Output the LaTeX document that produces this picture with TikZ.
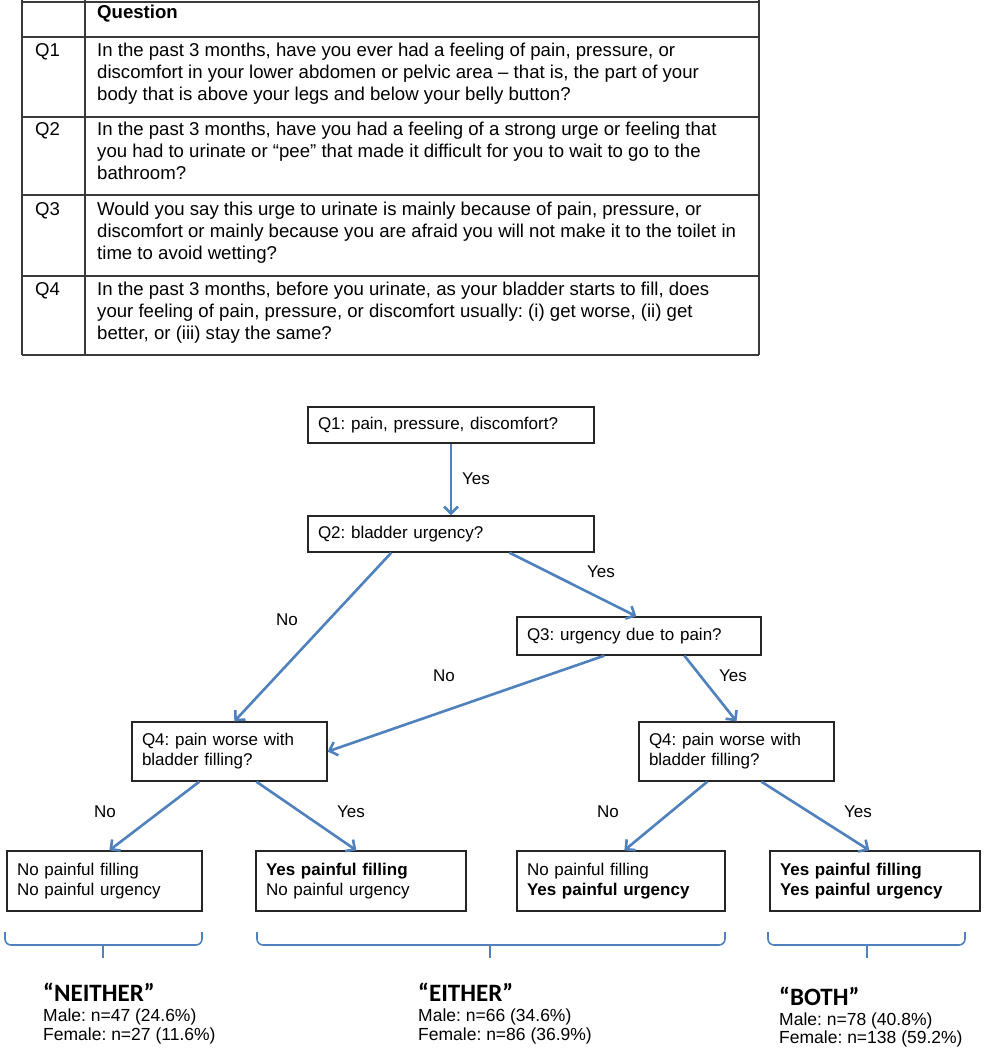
\documentclass[tikz,border=0pt]{standalone}
\usepackage{fontspec}
\setmainfont{Liberation Sans}
\newfontfamily\calib{Carlito}
\usetikzlibrary{arrows.meta}
\definecolor{arrowblue}{HTML}{4F81BD}
\definecolor{tabline}{HTML}{3A3A3A}
\newcommand{\tabfont}{\fontsize{18.6}{22}\selectfont}
\newcommand{\flowfont}{\fontsize{17}{20}\selectfont}
\newcommand{\sumfont}{\fontsize{17.5}{20}\selectfont}
\frenchspacing
\begin{document}
\frenchspacing
\begin{tikzpicture}[x=1pt,y=-1pt,
  tabtext/.style={inner sep=0pt, font=\tabfont, align=left, anchor=north west},
  tabhead/.style={inner sep=0pt, font=\tabfont, anchor=base west},
  fbox/.style 2 args={draw=black!85, line width=1.3pt, rectangle, inner xsep=10pt, inner ysep=0pt,
      text width=#1, minimum height=#2, align=left, font=\flowfont},
  flow/.style={draw=arrowblue, line width=2.6pt, -{Straight Barb[length=7pt,width=14pt]}},
  lbl/.style={inner sep=0pt, font=\flowfont},
  brace/.style={draw=arrowblue, line width=1.6pt, rounded corners=6pt},
  cat/.style={inner sep=0pt, anchor=base west, font=\calib\bfseries\fontsize{25}{28}\selectfont},
  stat/.style={inner sep=0pt, anchor=base west, font=\sumfont}]
\useasboundingbox (0,0) rectangle (991,1050);
\fill[white] (0,0) rectangle (991,1050);

% ---------- table ----------
\begin{scope}[draw=tabline, line width=1.5pt]
  \foreach \yy in {2,37,117,195,276,355} \draw (22,\yy) -- (759,\yy);
  \draw (22,0) -- (22,355);
  \draw (85,0) -- (85,355);
  \draw (759,0) -- (759,355);
\end{scope}

\node[tabhead] (hq) at (97,18) {\bfseries Question};
\node[tabhead] (h1) at (35,56) {Q1};
\node[tabhead] (h2) at (35,135) {Q2};
\node[tabhead] (h3) at (35,215) {Q3};
\node[tabhead] (h4) at (35,295) {Q4};

\node[tabtext] (t1) at (97,42.5) {In the past 3 months, have you ever had a feeling of pain, pressure, or\\
discomfort in your lower abdomen or pelvic area – that is, the part of your\\
body that is above your legs and below your belly button?};
\node[tabtext] (t2) at (97,121.5) {In the past 3 months, have you had a feeling of a strong urge or feeling that\\
you had to urinate or “pee” that made it difficult for you to wait to go to the\\
bathroom?};
\node[tabtext] (t3) at (97,201.5) {Would you say this urge to urinate is mainly because of pain, pressure, or\\
discomfort or mainly because you are afraid you will not make it to the toilet in\\
time to avoid wetting?};
\node[tabtext] (t4) at (97,281.5) {In the past 3 months, before you urinate, as your bladder starts to fill, does\\
your feeling of pain, pressure, or discomfort usually: (i) get worse, (ii) get\\
better, or (iii) stay the same?};

% ---------- flowchart boxes ----------
\node[fbox={266pt}{36pt}] (q1) at (451,425) {Q1: pain, pressure, discomfort?};
\node[fbox={266pt}{36pt}] (q2) at (451,534) {Q2: bladder urgency?};
\node[fbox={224pt}{38pt}] (q3) at (639,636) {Q3: urgency due to pain?};
\node[fbox={175pt}{59pt}] (q4l) at (229.5,751.5) {Q4: pain worse with\\bladder filling?};
\node[fbox={175pt}{59pt}] (q4r) at (736.5,751.5) {Q4: pain worse with\\bladder filling?};
\node[fbox={175pt}{60pt}] (r1) at (104.5,881) {No painful filling\\No painful urgency};
\node[fbox={190pt}{60pt}] (r2) at (361,881) {\textbf{Yes painful filling}\\No painful urgency};
\node[fbox={188pt}{60pt}] (r3) at (621,881) {No painful filling\\\textbf{Yes painful urgency}};
\node[fbox={190pt}{60pt}] (r4) at (875,881) {\textbf{Yes painful filling}\\\textbf{Yes painful urgency}};

% ---------- connectors ----------
\draw[flow] (q1.south) -- (q2.north);
\draw[flow] ([xshift=84pt]q2.south west) -- ([xshift=103pt]q4l.north west);
\draw[flow] ([xshift=202pt]q2.south west) -- ([xshift=120pt]q3.north west);
\draw[flow] ([xshift=88pt]q3.south west) -- (q4l.east);
\draw[flow] ([xshift=168pt]q3.south west) -- (q4r.north);
\draw[flow] ([xshift=68pt]q4l.south west) -- ([xshift=103pt]r1.north west);
\draw[flow] ([xshift=125pt]q4l.south west) -- ([xshift=101pt]r2.north west);
\draw[flow] ([xshift=69pt]q4r.south west) -- ([xshift=108pt]r3.north west);
\draw[flow] ([xshift=123pt]q4r.south west) -- ([xshift=100pt]r4.north west);

% ---------- connector labels ----------
\node[lbl] (y1) at (476,479) {Yes};
\node[lbl] (n2) at (287,620) {No};
\node[lbl] (y2) at (601,572) {Yes};
\node[lbl] (n3) at (444,676) {No};
\node[lbl] (y3) at (733,676) {Yes};
\node[lbl] (n4a) at (105,812) {No};
\node[lbl] (y4a) at (351,812) {Yes};
\node[lbl] (n4b) at (608,812) {No};
\node[lbl] (y4b) at (858,812) {Yes};

% ---------- brackets ----------
\draw[brace] (5,932) -- (5,945) -- (202,945) -- (202,932);
\draw[draw=arrowblue, line width=1.6pt] (103,945) -- (103,958);
\draw[brace] (257,932) -- (257,945) -- (725,945) -- (725,932);
\draw[draw=arrowblue, line width=1.6pt] (490,945) -- (490,958);
\draw[brace] (768,932) -- (768,945) -- (965,945) -- (965,932);
\draw[draw=arrowblue, line width=1.6pt] (867,945) -- (867,958);

% ---------- summary ----------
\node[cat] (neither) at (43,1001) {“NEITHER”};
\node[stat] (neim) at (43,1021.5) {Male: n=47 (24.6\%)};
\node[stat] (neif) at (43,1040) {Female: n=27 (11.6\%)};
\node[cat] (either) at (418,1001) {“EITHER”};
\node[stat] (eim) at (418,1021.5) {Male: n=66 (34.6\%)};
\node[stat] (eif) at (418,1040) {Female: n=86 (36.9\%)};
\node[cat] (both) at (779,1005) {“BOTH”};
\node[stat] (bom) at (779,1025) {Male: n=78 (40.8\%)};
\node[stat] (bof) at (779,1043) {Female: n=138 (59.2\%)};
\end{tikzpicture}
\end{document}
